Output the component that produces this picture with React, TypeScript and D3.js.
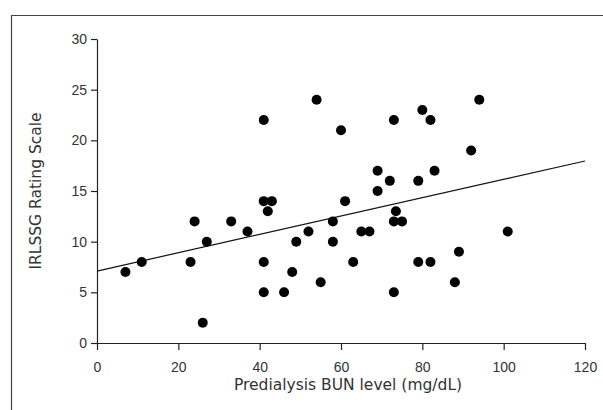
import * as React from "react";
import * as d3 from "d3";

// Predialysis BUN level (mg/dL)
const bunLevels = [
  7, 11, 23, 24, 26, 27, 33, 37, 41, 41, 43, 42, 41, 41, 46, 48, 49, 52, 54, 55,
  58, 58, 60, 61, 63, 65, 67, 69, 69, 72, 73, 73.5, 73, 75, 73, 79, 79, 80, 82, 82,
  83, 88, 89, 92, 94, 101,
];
// IRLSSG rating scale
const irlssgScores = [
  7, 8, 8, 12, 2, 10, 12, 11, 22, 14, 14, 13, 8, 5, 5, 7, 10, 11, 24, 6,
  12, 10, 21, 14, 8, 11, 11, 17, 15, 16, 22, 13, 12, 12, 5, 16, 8, 23, 22, 8,
  17, 6, 9, 19, 24, 11,
];
const xTicks = [0, 20, 40, 60, 80, 100, 120];
const yTicks = [0, 5, 10, 15, 20, 25, 30];
// fitted line
const fitIntercept = 7.1;
const fitSlope = 0.0905;

const xTitle = "Predialysis BUN level (mg/dL)";
const yTitle = "IRLSSG Rating Scale";

function scatterChart(svgRef: React.RefObject<SVGSVGElement | null>) {
  const svg = d3.select(svgRef.current);
  svg.selectAll("*").remove();

  const width = 603;
  const height = 410;
  const left = 97;
  const right = 585;
  const top = 39;
  const bottom = 343;
  const titleFont = '"DejaVu Sans", sans-serif';
  const tickFont = '"Liberation Sans", sans-serif';
  const textColor = "#333";

  svg.attr("width", width).attr("height", height);

  // outer frame: only top and left edges fall inside the picture
  svg
    .append("path")
    .attr("d", `M11.5,${height} V15.5 H${width}`)
    .style("fill", "none")
    .style("stroke", "#444")
    .style("stroke-width", 1.2);

  const xScale = d3.scaleLinear().domain([0, 120]).range([left, right]);
  const yScale = d3.scaleLinear().domain([0, 30]).range([bottom, top]);

  const xAxis = d3
    .axisBottom(xScale)
    .tickValues(xTicks)
    .tickSize(7)
    .tickSizeOuter(0)
    .tickPadding(12);

  const yAxis = d3
    .axisLeft(yScale)
    .tickValues(yTicks)
    .tickSize(6)
    .tickSizeOuter(0)
    .tickPadding(4);

  const gx = svg
    .append("g")
    .attr("transform", `translate(0, ${bottom})`)
    .call(xAxis);
  const gy = svg
    .append("g")
    .attr("transform", `translate(${left}, 0)`)
    .call(yAxis);

  [gx, gy].forEach((g) => {
    g.select(".domain").style("stroke", "#222").style("stroke-width", 1.2);
    g.selectAll(".tick line").style("stroke", "#222").style("stroke-width", 1.2);
    g.selectAll(".tick text")
      .style("fill", textColor)
      .style("font-family", tickFont)
      .style("font-size", "14px");
  });

  svg
    .append("text")
    .attr("x", 348)
    .attr("y", 390)
    .attr("text-anchor", "middle")
    .style("font-family", titleFont)
    .style("font-size", "15.5px")
    .style("fill", textColor)
    .text(xTitle);

  svg
    .append("text")
    .attr("transform", `translate(41, ${(top + bottom) / 2}) rotate(-90)`)
    .attr("text-anchor", "middle")
    .style("font-family", titleFont)
    .style("font-size", "15.5px")
    .style("fill", textColor)
    .text(yTitle);

  // regression line
  const line = d3
    .line<number>()
    .x((d) => xScale(d))
    .y((d) => yScale(fitIntercept + fitSlope * d));

  svg
    .append("path")
    .attr("d", line([0, 120]))
    .style("fill", "none")
    .style("stroke", "#111")
    .style("stroke-width", 1.2);

  const points = bunLevels.map((x, i) => ({ x, y: irlssgScores[i] }));

  svg
    .append("g")
    .selectAll("circle")
    .data(points)
    .enter()
    .append("circle")
    .attr("cx", (d) => xScale(d.x))
    .attr("cy", (d) => yScale(d.y))
    .attr("r", 5)
    .style("fill", "#000");
}

const App = () => {
  const svg = React.useRef<SVGSVGElement>(null);
  React.useEffect(() => {
    scatterChart(svg);
  }, [svg]);

  return (
    <svg
      ref={svg}
      style={{ position: "absolute", left: 0, top: 0, background: "#fff" }}
    />
  );
};

export default App;
